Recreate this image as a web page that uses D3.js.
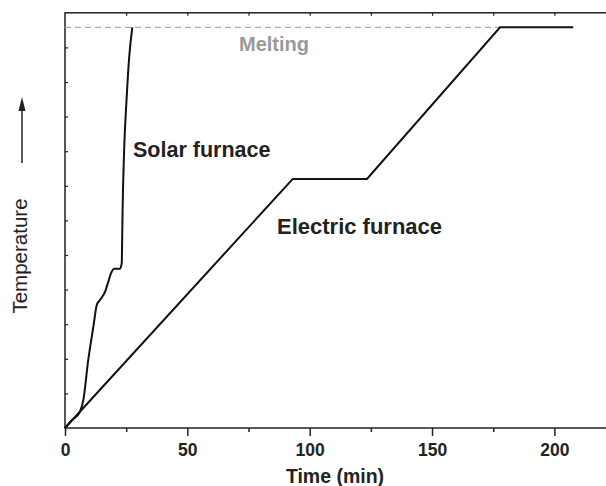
<!DOCTYPE html>
<html lang="en">
<head>
<meta charset="UTF-8">
<title>Solar vs electric furnace</title>
<script src="https://d3js.org/d3.v7.min.js"></script>
<style>
  body { margin: 0; background: #fff; }
  svg { display: block; font-family: 'Liberation Sans', Arial, sans-serif; }
  .lbl { font-weight: bold; fill: #222; }
</style>
</head>
<body>
<svg width="606" height="486"></svg>
<script>
// time (min) vs temperature (arbitrary units, no labels on y)
const solarTime = [0, 2.9, 6.1, 7.5, 9.5, 11.6, 13.0, 14.3, 16.4, 17.7, 19.1, 20.2, 22.5, 23.2, 23.3, 23.5, 24.2, 25.2, 26.2, 27.5];
const solarTemp = [0, 0.23, 0.47, 0.81, 1.97, 2.93, 3.56, 3.70, 3.94, 4.23, 4.52, 4.60, 4.60, 4.77, 5.14, 6.16, 8.09, 9.54, 10.69, 11.58];
const electricTime = [0, 93.1, 123.4, 177.8, 207.7];
const electricTemp = [0, 7.2, 7.2, 11.58, 11.58];
const meltingTemp = 11.58;
const meltingEnd = 177.8;
const xTicks = [0, 50, 100, 150, 200];

const svg = d3.select("svg");
const x = d3.scaleLinear().domain([0, 221.5]).range([65, 607]);
const y = d3.scaleLinear().domain([0, 12]).range([428, 12.8]);

const ink = "#222";

// frame
svg.append("rect")
  .attr("x", x(0)).attr("y", y(12))
  .attr("width", x(221.5) - x(0)).attr("height", y(0) - y(12))
  .attr("fill", "none").attr("stroke", ink).attr("stroke-width", 1.5);

// bottom axis: major outward ticks with labels, minor between
const bottomAxis = svg.append("g").attr("transform", `translate(0,${y(0)})`);
bottomAxis.call(d3.axisBottom(x).tickValues(xTicks).tickSize(8).tickFormat(d3.format("d")));
bottomAxis.append("g").call(d3.axisBottom(x).tickValues(d3.range(25, 221, 50)).tickSize(4).tickFormat(""));
bottomAxis.selectAll(".domain").remove();
bottomAxis.selectAll("line").attr("stroke", ink).attr("stroke-width", 1.5);
bottomAxis.selectAll("text")
  .attr("fill", ink).attr("font-size", 17.5).attr("font-weight", "bold")
  .attr("font-family", "'Liberation Sans', Arial, sans-serif")
  .attr("dy", null).attr("y", 28);

// top axis inward ticks
const topAxis = svg.append("g").attr("transform", `translate(0,${y(12)})`);
topAxis.call(d3.axisBottom(x).tickValues(d3.range(25, 221, 25)).tickSize(3).tickFormat(""));
topAxis.selectAll(".domain").remove();
topAxis.selectAll("line").attr("stroke", ink).attr("stroke-width", 1.2);

// left axis inward ticks
const leftAxis = svg.append("g").attr("transform", `translate(${x(0)},0)`);
leftAxis.call(d3.axisRight(y).tickValues(d3.range(1, 12)).tickSize(3).tickFormat(""));
leftAxis.selectAll(".domain").remove();
leftAxis.selectAll("line").attr("stroke", ink).attr("stroke-width", 1.2);

// melting line
svg.append("line")
  .attr("x1", x(0)).attr("x2", x(meltingEnd))
  .attr("y1", y(meltingTemp)).attr("y2", y(meltingTemp))
  .attr("stroke", "#aaa").attr("stroke-width", 1.3)
  .attr("stroke-dasharray", "6,4");

const line = d3.line().x(d => x(d[0])).y(d => y(d[1]));

svg.append("path")
  .datum(d3.zip(electricTime, electricTemp))
  .attr("d", line)
  .attr("fill", "none").attr("stroke", "#111").attr("stroke-width", 2);

svg.append("path")
  .datum(d3.zip(solarTime, solarTemp))
  .attr("d", line.curve(d3.curveMonotoneX))
  .attr("fill", "none").attr("stroke", "#111").attr("stroke-width", 2);

// labels
svg.append("text").attr("class", "lbl")
  .attr("x", 239).attr("y", 51).attr("font-size", 20).style("fill", "#999")
  .text("Melting");
svg.append("text").attr("class", "lbl")
  .attr("x", 133).attr("y", 157).attr("font-size", 21.5)
  .text("Solar furnace");
svg.append("text").attr("class", "lbl")
  .attr("x", 277).attr("y", 234).attr("font-size", 22)
  .text("Electric furnace");
svg.append("text").attr("class", "lbl")
  .attr("x", (x(0) + 607) / 2 - 1).attr("y", 483).attr("font-size", 19.5)
  .attr("text-anchor", "middle")
  .text("Time (min)");

svg.append("text")
  .attr("transform", "translate(27,256) rotate(-90)")
  .attr("text-anchor", "middle").attr("font-size", 20.5).attr("fill", ink)
  .text("Temperature");

// arrow
svg.append("line")
  .attr("x1", 22).attr("x2", 22).attr("y1", 163).attr("y2", 108)
  .attr("stroke", ink).attr("stroke-width", 1.5);
svg.append("path")
  .attr("d", "M22,97 L25.5,111 L18.5,111 Z")
  .attr("fill", ink);
</script>
</body>
</html>
